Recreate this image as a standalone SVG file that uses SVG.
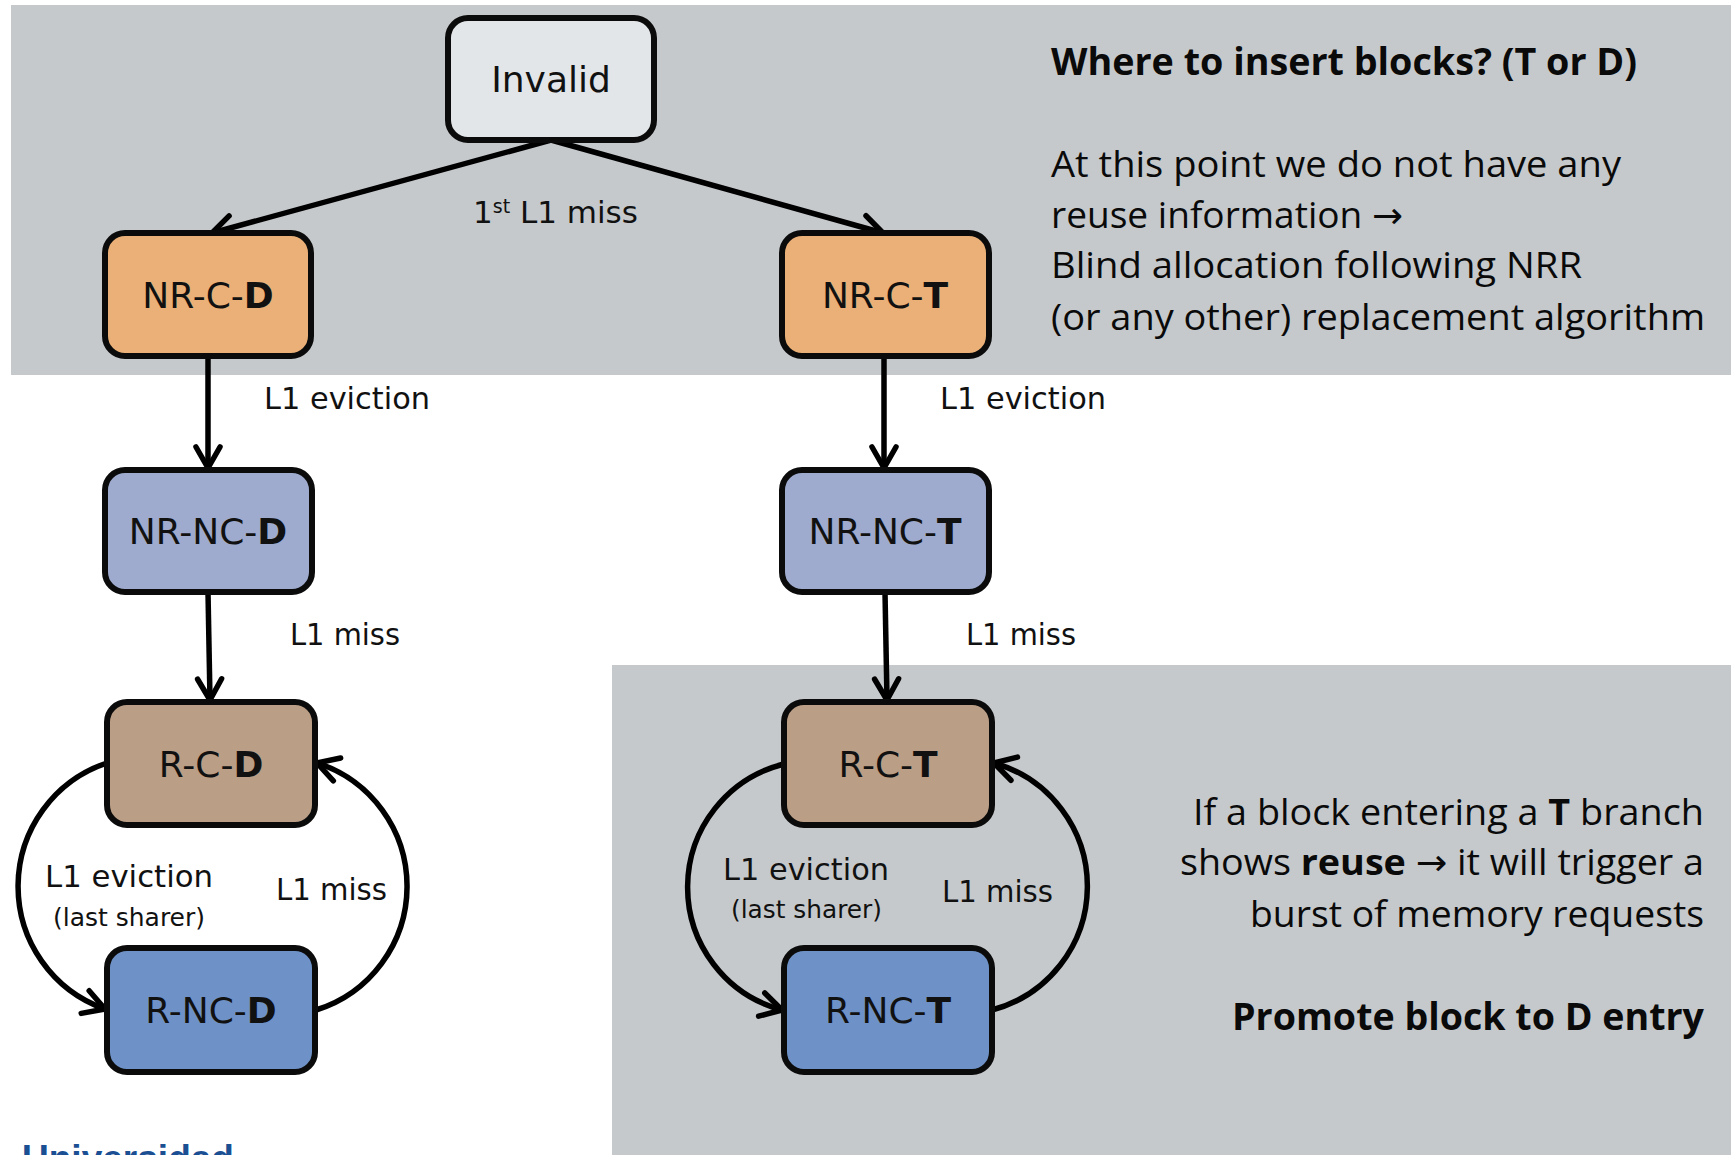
<svg xmlns="http://www.w3.org/2000/svg" width="1731" height="1155" viewBox="0 0 1731 1155">
  <defs>
    <marker id="chev" markerUnits="userSpaceOnUse" markerWidth="40" markerHeight="40" viewBox="-30 -20 40 40" refX="0" refY="0" orient="auto" overflow="visible">
      <path d="M -21 -12 L 0 0 L -21 12" fill="none" stroke="#000" stroke-width="5.5" stroke-linecap="round" stroke-linejoin="round"/>
    </marker>
    <style>
      .band { fill: #c6c9cc; }
      .box { stroke: #0b0b0b; stroke-width: 6; }
      .invalid { fill: #e3e6e8; }
      .nrc { fill: #eab077; }
      .nrnc { fill: #9eabce; }
      .rc { fill: #bb9e86; }
      .rnc { fill: #6e92c7; }
      .node-label { font-family: "DejaVu Sans", "Liberation Sans", sans-serif; font-size: 36px; fill: #111; text-anchor: middle; }
      .b { font-weight: bold; }
      .arr { font-family: "DejaVu Sans", sans-serif; }
      .edge { fill: none; stroke: #000; stroke-width: 5.5; marker-end: url(#chev); }
      .edge-label { font-family: "DejaVu Sans", "Liberation Sans", sans-serif; font-size: 31px; fill: #111; }
      .edge-sub { font-family: "DejaVu Sans", "Liberation Sans", sans-serif; font-size: 25px; fill: #111; }
      .note { font-family: "Open Sans", "Noto Sans", "Liberation Sans", sans-serif; font-size: 36px; fill: #0a0a0a; }
      .note-title { font-family: "Open Sans", "Noto Sans", "Liberation Sans", sans-serif; font-size: 38px; font-weight: bold; fill: #0a0a0a; }
      .brand { font-family: "Liberation Sans", "DejaVu Sans", sans-serif; font-size: 37px; font-weight: bold; fill: #1b4f93; }
    </style>
  </defs>

  <!-- background bands -->
  <rect class="band" x="11" y="5" width="1720" height="370"/>
  <rect class="band" x="612" y="665" width="1119" height="490"/>

  <!-- connectors -->
  <g id="connectors">
    <path class="edge" d="M 551 140 L 212 233"/>
    <path class="edge" d="M 551 140 L 883 233"/>
    <path class="edge" d="M 208 356 L 208 468"/>
    <path class="edge" d="M 208 592 L 210 700"/>
    <path class="edge" d="M 884 356 L 884 468"/>
    <path class="edge" d="M 885 592 L 887 700"/>
    <!-- D branch loop -->
    <path class="edge" d="M 107 763 A 130 130 0 0 0 105 1009"/>
    <path class="edge" d="M 316 1010 A 129.5 129.5 0 0 0 317 763"/>
    <!-- T branch loop -->
    <path class="edge" d="M 784 764 A 127 127 0 0 0 782 1010"/>
    <path class="edge" d="M 992 1010 A 128 128 0 0 0 994 763"/>

    <text class="edge-label" x="473" y="223">1<tspan font-size="19" dy="-10">st</tspan><tspan dy="10"> L1 miss</tspan></text>
    <text class="edge-label" x="264" y="409" textLength="166" lengthAdjust="spacingAndGlyphs">L1 eviction</text>
    <text class="edge-label" x="940" y="409" textLength="166" lengthAdjust="spacingAndGlyphs">L1 eviction</text>
    <text class="edge-label" x="290" y="645" textLength="110" lengthAdjust="spacingAndGlyphs">L1 miss</text>
    <text class="edge-label" x="966" y="645" textLength="110" lengthAdjust="spacingAndGlyphs">L1 miss</text>

    <text class="edge-label" x="45" y="887" textLength="168" lengthAdjust="spacingAndGlyphs">L1 eviction</text>
    <text class="edge-sub" x="53" y="926" textLength="152" lengthAdjust="spacingAndGlyphs">(last sharer)</text>
    <text class="edge-label" x="276" y="900" textLength="111" lengthAdjust="spacingAndGlyphs">L1 miss</text>

    <text class="edge-label" x="723" y="880" textLength="166" lengthAdjust="spacingAndGlyphs">L1 eviction</text>
    <text class="edge-sub" x="731" y="918" textLength="151" lengthAdjust="spacingAndGlyphs">(last sharer)</text>
    <text class="edge-label" x="942" y="902" textLength="111" lengthAdjust="spacingAndGlyphs">L1 miss</text>
  </g>

  <!-- nodes -->
  <g id="invalid">
    <rect class="box invalid" x="448" y="18" width="206" height="122" rx="20"/>
    <text class="node-label" x="551" y="92">Invalid</text>
  </g>
  <g id="nr-c-d">
    <rect class="box nrc" x="105" y="233" width="206" height="123" rx="20"/>
    <text class="node-label" x="208" y="308">NR-C-<tspan class="b">D</tspan></text>
  </g>
  <g id="nr-c-t">
    <rect class="box nrc" x="782" y="233" width="207" height="123" rx="20"/>
    <text class="node-label" x="885" y="308">NR-C-<tspan class="b">T</tspan></text>
  </g>
  <g id="nr-nc-d">
    <rect class="box nrnc" x="105" y="470" width="207" height="122" rx="20"/>
    <text class="node-label" x="208" y="544">NR-NC-<tspan class="b">D</tspan></text>
  </g>
  <g id="nr-nc-t">
    <rect class="box nrnc" x="782" y="470" width="207" height="122" rx="20"/>
    <text class="node-label" x="885" y="544">NR-NC-<tspan class="b">T</tspan></text>
  </g>
  <g id="r-c-d">
    <rect class="box rc" x="107" y="702" width="208" height="123" rx="20"/>
    <text class="node-label" x="211" y="777">R-C-<tspan class="b">D</tspan></text>
  </g>
  <g id="r-c-t">
    <rect class="box rc" x="784" y="702" width="208" height="123" rx="20"/>
    <text class="node-label" x="888" y="777">R-C-<tspan class="b">T</tspan></text>
  </g>
  <g id="r-nc-d">
    <rect class="box rnc" x="107" y="948" width="208" height="124" rx="20"/>
    <text class="node-label" x="211" y="1023">R-NC-<tspan class="b">D</tspan></text>
  </g>
  <g id="r-nc-t">
    <rect class="box rnc" x="784" y="948" width="208" height="124" rx="20"/>
    <text class="node-label" x="888" y="1023">R-NC-<tspan class="b">T</tspan></text>
  </g>

  <!-- notes -->
  <g id="note-insert">
    <text class="note-title" x="1051" y="75" textLength="586" lengthAdjust="spacingAndGlyphs">Where to insert blocks? (T or D)</text>
    <text class="note" x="1051" y="177" textLength="570" lengthAdjust="spacingAndGlyphs">At this point we do not have any</text>
    <text class="note" x="1051" y="228" textLength="352" lengthAdjust="spacingAndGlyphs">reuse information <tspan class="arr">→</tspan></text>
    <text class="note" x="1051" y="278" textLength="531" lengthAdjust="spacingAndGlyphs">Blind allocation following NRR</text>
    <text class="note" x="1051" y="330" textLength="654" lengthAdjust="spacingAndGlyphs">(or any other) replacement algorithm</text>
  </g>
  <g id="note-promote">
    <text class="note" x="1193" y="825" textLength="511" lengthAdjust="spacingAndGlyphs">If a block entering a <tspan class="b">T</tspan> branch</text>
    <text class="note" x="1180" y="875" textLength="524" lengthAdjust="spacingAndGlyphs">shows <tspan class="b">reuse</tspan> <tspan class="arr">→</tspan> it will trigger a</text>
    <text class="note" x="1250" y="927" textLength="454" lengthAdjust="spacingAndGlyphs">burst of memory requests</text>
    <text class="note-title" x="1232" y="1030" textLength="472" lengthAdjust="spacingAndGlyphs">Promote block to D entry</text>
  </g>

  <!-- footer wordmark, clipped by the page edge -->
  <text class="brand" x="22" y="1171" textLength="212" lengthAdjust="spacingAndGlyphs">Universidad</text>
</svg>
